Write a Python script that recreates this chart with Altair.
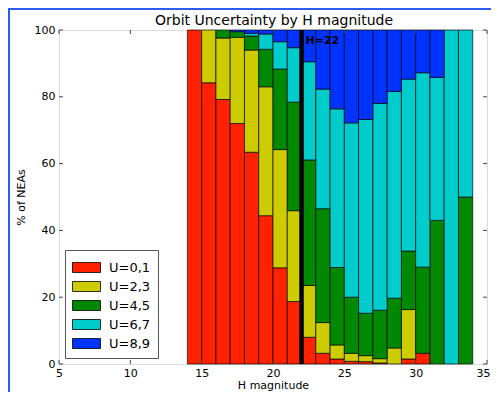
import altair as alt
import pandas as pd

# Bin starts of H magnitude (bins are 1 mag wide)
h_bins = list(range(14, 34))
categories = ["U=0,1", "U=2,3", "U=4,5", "U=6,7", "U=8,9"]
colors = ["#ff2200", "#cccc00", "#008800", "#00cccc", "#0033ff"]

u01 = [100, 84.2, 79.2, 72.0, 63.4, 44.4, 28.8, 18.7, 8.0, 3.2, 1.5, 0.8, 0.7, 0.3, 0.0, 1.5, 3.2, 0.0, 0.0, 0.0]
u23 = [0, 15.8, 18.4, 25.8, 30.6, 38.6, 35.4, 27.2, 15.5, 9.2, 4.2, 2.4, 1.8, 1.3, 4.8, 14.8, 0.0, 0.0, 0.0, 0.0]
u45 = [0, 0, 2.4, 1.7, 4.2, 11.2, 24.1, 32.5, 37.6, 34.1, 23.2, 16.8, 12.7, 14.5, 14.9, 17.5, 25.8, 43.0, 0.0, 50.0]
u67 = [0, 0, 0, 0, 0.8, 4.6, 8.2, 16.3, 29.4, 35.8, 47.5, 52.2, 58.0, 61.9, 61.9, 51.5, 58.2, 42.8, 100.0, 50.0]
u89 = [0, 0, 0, 0.5, 1.0, 1.2, 3.5, 5.3, 9.5, 17.7, 23.6, 27.8, 26.8, 22.0, 18.4, 14.7, 12.8, 14.2, 0.0, 0.0]

series = [u01, u23, u45, u67, u89]
title_text = "Orbit Uncertainty by H magnitude"

rows = []
for i, h in enumerate(h_bins):
    base = 0.0
    for ci, cat in enumerate(categories):
        v = series[ci][i]
        if v > 0:
            rows.append({"h0": h, "h1": h + 1, "cat": cat, "order": ci,
                         "y0": base, "y1": base + v})
        base += v
df = pd.DataFrame(rows)

W, H = 428, 334
font = "DejaVu Sans"

xscale = alt.Scale(domain=[5, 35], nice=False, zero=False)
yscale = alt.Scale(domain=[0, 100], nice=False)

bars = alt.Chart(df).mark_bar(stroke="black", strokeWidth=0.8, strokeOpacity=0.85).encode(
    x=alt.X("h0:Q", scale=xscale,
            axis=alt.Axis(title="H magnitude", values=[5, 10, 15, 20, 25, 30, 35],
                          ticks=False, domain=False, grid=False, labelPadding=3,
                          labelFlush=False,
                          labelOffset={"expr": "datum.value == 35 ? -4 : 0"},
                          labelFont=font, labelFontSize=11, labelColor="#000",
                          titleFont=font, titleFontSize=11, titleFontWeight="normal",
                          titleColor="#000", titlePadding=1, format="d")),
    x2="h1:Q",
    y=alt.Y("y0:Q", scale=yscale,
            axis=alt.Axis(title="% of NEAs", values=[0, 20, 40, 60, 80, 100],
                          ticks=False, domain=False, grid=False, labelPadding=4,
                          labelFlush=False,
                          labelFont=font, labelFontSize=11, labelColor="#000",
                          titleFont=font, titleFontSize=11, titleFontWeight="normal",
                          titleColor="#000", titlePadding=8, format="d")),
    y2="y1:Q",
    color=alt.Color("cat:N", scale=alt.Scale(domain=categories, range=colors),
                    legend=alt.Legend(title=None, orient="none", legendX=6, legendY=220,
                                      symbolType="M-1.4,-0.5H1.4V0.5H-1.4Z",
                                      symbolSize=400, symbolStrokeColor="black",
                                      symbolStrokeWidth=0.8, symbolOpacity=1,
                                      labelFont=font, labelFontSize=13, labelColor="#000",
                                      labelOffset=12, rowPadding=1, padding=7,
                                      strokeColor="#555", fillColor="white",
                                      symbolOffset=4)),
    order="order:Q",
)

line_df = pd.DataFrame({"h": [22], "ya": [0], "yb": [100], "label": ["H=22"],
                        "title": [title_text]})
vline = alt.Chart(line_df).mark_rule(color="black", strokeWidth=4.5).encode(
    x=alt.X("h:Q", scale=xscale), y=alt.Y("ya:Q", scale=yscale), y2="yb:Q")
vtext = alt.Chart(line_df).mark_text(align="left", baseline="top", dx=4, dy=5,
                                     font=font, fontSize=11, fontWeight="bold",
                                     color="black").encode(
    x=alt.X("h:Q", scale=xscale), y=alt.Y("yb:Q", scale=yscale), text="label:N")

# chart title as a text mark
ttext = alt.Chart(line_df).mark_text(align="center", baseline="alphabetic",
                                     font=font, fontSize=14, color="black").encode(
    x=alt.value(W / 2 + 1), y=alt.value(-5), text="title:N")

# inward tick marks (matplotlib style)
xt = pd.DataFrame({"t": [5, 10, 15, 20, 25, 30, 35]})
yt = pd.DataFrame({"t": [0, 20, 40, 60, 80, 100]})
xt_bot = alt.Chart(xt).mark_rule(color="#444", strokeWidth=1).encode(
    x=alt.X("t:Q", scale=xscale), y=alt.value(H), y2=alt.value(H - 4))
xt_top = alt.Chart(xt).mark_rule(color="#444", strokeWidth=1).encode(
    x=alt.X("t:Q", scale=xscale), y=alt.value(0), y2=alt.value(4))
yt_left = alt.Chart(yt).mark_rule(color="#444", strokeWidth=1).encode(
    y=alt.Y("t:Q", scale=yscale), x=alt.value(0), x2=alt.value(4))
yt_right = alt.Chart(yt).mark_rule(color="#444", strokeWidth=1).encode(
    y=alt.Y("t:Q", scale=yscale), x=alt.value(W), x2=alt.value(W - 4))

# decorative blue frame from the screenshot (top and left edges)
frame_top = alt.Chart(line_df).mark_rule(color="#2f5cf0", strokeWidth=2).encode(
    x=alt.value(-51), x2=alt.value(W + 4), y=alt.value(-21))
frame_left = alt.Chart(line_df).mark_rule(color="#2f5cf0", strokeWidth=2).encode(
    x=alt.value(-50), y=alt.value(-22), y2=alt.value(H + 28))

chart = alt.layer(bars, vline, vtext, ttext, xt_bot, xt_top, yt_left, yt_right,
                  frame_top, frame_left).properties(
    width=W, height=H,
    autosize=alt.AutoSizeParams(type="none"),
    padding={"left": 51, "top": 22, "right": 4, "bottom": 28},
).configure_view(stroke="#222", strokeWidth=1).configure(background="white")

chart.save("out.html", embed_options={"renderer": "svg", "actions": False})
